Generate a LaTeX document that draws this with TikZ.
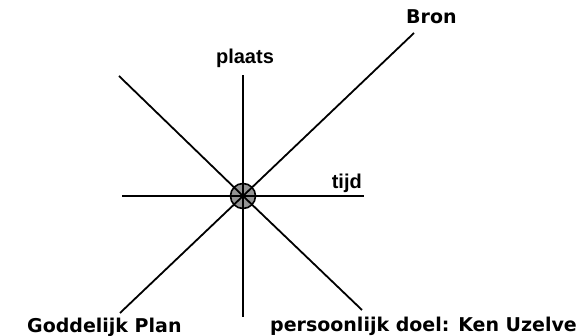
\documentclass[tikz,border=0pt]{standalone}
\usepackage{fontspec}
\newfontfamily\verd{DejaVu Sans}
\newfontfamily\ari{Liberation Sans}
\begin{document}
\begin{tikzpicture}[x=1pt,y=-1pt,
  spoke/.style={line width=1.8pt,black},
  lblv/.style={inner sep=0pt,font=\verd\bfseries\fontsize{19}{22}\selectfont},
  lbla/.style={inner sep=0pt,font=\ari\bfseries\fontsize{20}{23}\selectfont}]
\useasboundingbox (0,0) rectangle (582,336);
\node[circle,draw=black,line width=1.6pt,fill=black!42,minimum size=25pt,inner sep=0pt] (c) at (243,196) {};
\coordinate (n) at (243,75);
\coordinate (s) at (243,317);
\coordinate (w) at (122,196);
\coordinate (e) at (364,196);
\coordinate (ur) at (414,33);
\coordinate (ul) at (119,76);
\coordinate (ll) at (120,313);
\coordinate (lr) at (362,310);
\foreach \p in {n,s,w,e,ur,ul,ll,lr} \draw[spoke] (c.center) -- (\p);
\node[lblv,anchor=base west] (bron) at (406,24) {Bron};
\node[lbla,anchor=base] (plaats) at (245,64) {plaats};
\node[lbla,anchor=base east] (tijd) at (362,189) {tijd};
\node[lblv,anchor=base west] (gp) at (27,333) {Goddelijk Plan};
\node[lblv,anchor=base west] (pd) at (270,332) {persoonlijk doel: Ken Uzelve};
\end{tikzpicture}
\end{document}
